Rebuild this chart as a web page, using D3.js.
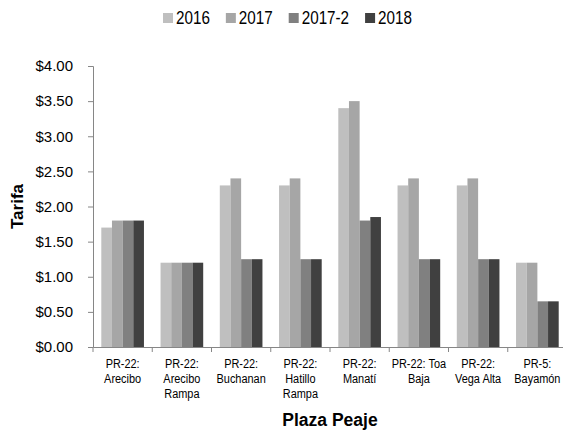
<!DOCTYPE html>
<html>
<head>
<meta charset="utf-8">
<script src="https://cdn.jsdelivr.net/npm/d3@7"></script>
<style>
  body { margin: 0; background: #fff; }
  svg text { font-family: "Liberation Sans", Arial, sans-serif; fill: #000; }
</style>
</head>
<body>
<div id="chart"></div>
<script>
const WIDTH = 563;
const HEIGHT = 430;

// data
const CATEGORIES = [
  ["PR-22:", "Arecibo"],
  ["PR-22:", "Arecibo", "Rampa"],
  ["PR-22:", "Buchanan"],
  ["PR-22:", "Hatillo", "Rampa"],
  ["PR-22:", "Manatí"],
  ["PR-22: Toa", "Baja"],
  ["PR-22:", "Vega Alta"],
  ["PR-5:", "Bayamón"]
];
const SERIES = ["2016", "2017", "2017-2", "2018"];
const COLORS = ["#bfbfbf", "#a6a6a6", "#808080", "#404040"];
const V2016   = [1.70, 1.20, 2.30, 2.30, 3.40, 2.30, 2.30, 1.20];
const V2017   = [1.80, 1.20, 2.40, 2.40, 3.50, 2.40, 2.40, 1.20];
const V2017_2 = [1.80, 1.20, 1.25, 1.25, 1.80, 1.25, 1.25, 0.65];
const V2018   = [1.80, 1.20, 1.25, 1.25, 1.85, 1.25, 1.25, 0.65];
const Y_TICKS = [0, 0.5, 1, 1.5, 2, 2.5, 3, 3.5, 4];

const VALUES = [V2016, V2017, V2017_2, V2018];

const X0 = 93, X1 = 567;
const Y_TOP = 66, Y_BOT = 347;
const NARROW = 0.81; // source font is a condensed face

const svg = d3.select('#chart').append('svg')
  .attr('width', WIDTH).attr('height', HEIGHT);

const catIdx = CATEGORIES.map((c, i) => i);
const x = d3.scaleBand().domain(catIdx).range([X0, X1]).padding(0);
const bw = x.bandwidth();
const xs = d3.scaleBand().domain(SERIES).range([bw * 0.14, bw * 0.86]).padding(0);
const y = d3.scaleLinear().domain([0, 4]).range([Y_BOT, Y_TOP]);

// bars
const groups = svg.selectAll('.grp').data(catIdx).enter()
  .append('g').attr('class', 'grp')
  .attr('transform', i => `translate(${x(i)},0)`);

groups.selectAll('rect')
  .data(i => SERIES.map((s, k) => ({ s: s, k: k, v: VALUES[k][i] })))
  .enter().append('rect')
  .attr('x', d => xs(d.s))
  .attr('y', d => y(d.v))
  .attr('width', xs.bandwidth())
  .attr('height', d => y(0) - y(d.v))
  .attr('fill', d => COLORS[d.k]);

// y axis
const yAxis = svg.append('g')
  .attr('transform', `translate(${X0},0)`)
  .call(d3.axisLeft(y).tickValues(Y_TICKS).tickSize(5).tickPadding(15)
    .tickFormat(d => '$' + d.toFixed(2)));
yAxis.selectAll('text').style('font-size', '15px');

// x axis
const xAxis = svg.append('g')
  .attr('transform', `translate(0,${Y_BOT})`)
  .call(d3.axisBottom(x).tickSize(0).tickFormat(''));
xAxis.selectAll('.tick').remove();
xAxis.selectAll('.xt').data(d3.range(CATEGORIES.length + 1)).enter()
  .append('line')
  .attr('x1', i => X0 + i * bw).attr('x2', i => X0 + i * bw)
  .attr('y1', 0).attr('y2', 5);

[yAxis, xAxis].forEach(a => {
  a.selectAll('path, line').attr('stroke', '#868686');
});

// category labels
const labels = svg.selectAll('.cat').data(catIdx).enter()
  .append('text').attr('class', 'cat')
  .attr('text-anchor', 'middle')
  .style('font-size', '13.5px')
  .attr('transform', i => `translate(${x(i) + bw / 2},368) scale(${NARROW},1)`);
labels.selectAll('tspan')
  .data(i => CATEGORIES[i])
  .enter().append('tspan')
  .attr('x', 0)
  .attr('dy', (d, j) => j === 0 ? 0 : 15)
  .text(d => d);

// axis titles
svg.append('text')
  .attr('x', (X0 + X1) / 2).attr('y', 426)
  .attr('text-anchor', 'middle')
  .style('font-size', '17.5px').style('font-weight', 'bold')
  .text('Plaza Peaje');

svg.append('text')
  .attr('transform', `translate(23,${(Y_TOP + Y_BOT) / 2}) rotate(-90)`)
  .attr('text-anchor', 'middle')
  .style('font-size', '17px').style('font-weight', 'bold')
  .text('Tarifa');

// legend
const legend = svg.append('g').attr('transform', 'translate(163,0)');
let lx = 0;
SERIES.forEach((s, k) => {
  const g = legend.append('g').attr('transform', `translate(${lx},0)`);
  g.append('rect').attr('x', 0).attr('y', 13).attr('width', 10).attr('height', 10)
    .attr('fill', COLORS[k]);
  const t = g.append('text')
    .attr('transform', 'translate(13,24) scale(0.87,1)')
    .style('font-size', '17.5px').text(s);
  lx += 13 + t.node().getComputedTextLength() * 0.87 + 16;
});
</script>
</body>
</html>
